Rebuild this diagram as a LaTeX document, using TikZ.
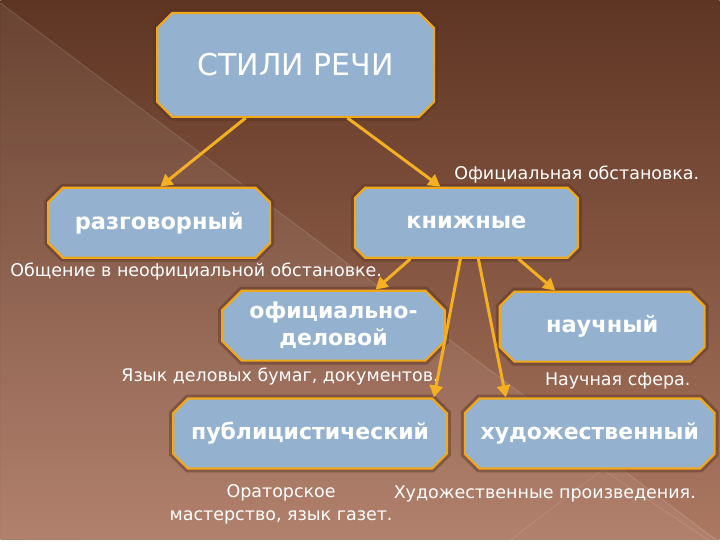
\documentclass[tikz,border=0pt]{standalone}
\usepackage{fontspec}
\setmainfont{DejaVu Sans}
\usepackage{tikz}
\usetikzlibrary{shapes.misc,arrows.meta,positioning,calc}
\definecolor{bgtop}{HTML}{5E3523}
\definecolor{bgbottom}{HTML}{AC7862}
\definecolor{boxfill}{HTML}{94B2D0}
\definecolor{boxline}{HTML}{F0A81C}
\definecolor{arrowgold}{HTML}{F4B022}
\definecolor{halo}{HTML}{5A3222}

\begin{document}
\begin{tikzpicture}[x=1pt, y=-1pt,
    stylebox/.style={chamfered rectangle, chamfered rectangle xsep=16pt, draw=boxline, line width=2.2pt, fill=boxfill, text=white, inner sep=0pt, align=center,
      preaction={draw=halo, line width=8pt, opacity=0.45}},
    subbox/.style={stylebox, minimum height=70pt, font=\fontsize{22}{26}\selectfont\bfseries},
    note/.style={text=white, font=\fontsize{17.5}{23}\selectfont, inner sep=0pt},
    arr/.style={draw=arrowgold, line width=3pt, -{Triangle[length=12pt, width=13pt]}}]
    % background
    \shade[top color=bgtop, bottom color=bgbottom] (0,0) rectangle (720,540);
    \fill[white, opacity=0.07] (0,3) -- (720,543) -- (0,540) -- cycle;
    \draw[white, opacity=0.15, line width=0.8pt] (0,3) -- (720,543);
    \draw[white, opacity=0.12, line width=0.8pt] (505,545) -- (603,470) -- (720,548);
    \useasboundingbox (0,0) rectangle (720,540);

    % boxes
    \node[stylebox, minimum width=277pt, minimum height=104pt, chamfered rectangle xsep=24pt, font=\fontsize{30}{34}\selectfont] (stili) at (295.5,65) {СТИЛИ РЕЧИ};
    \node[subbox, minimum width=222pt, font=\fontsize{22.5}{26}\selectfont\bfseries] (razg) at (159,223) {разговорный};
    \node[subbox, minimum width=223pt, font=\fontsize{22.5}{26}\selectfont\bfseries] (knizh) at (466.5,223) {книжные};
    \node[subbox, minimum width=223pt, font=\fontsize{22}{27}\selectfont\bfseries] (ofic) at (333.5,326) {официально-\\деловой};
    \node[subbox, minimum width=205pt, font=\fontsize{22.5}{26}\selectfont\bfseries] (nauch) at (602.5,327) {научный};
    \node[subbox, minimum width=274pt] (publ) at (310,434) {публицистический};
    \node[subbox, minimum width=250pt] (khud) at (590,434) {художественный};

    % notes
    \node[note] (n_ofic) at (577,175) {Официальная обстановка.};
    \node[note] (n_razg) at (196,272) {Общение в неофициальной обстановке.};
    \node[note] (n_delo) at (280,377) {Язык деловых бумаг, документов.};
    \node[note] (n_nauch) at (618,381) {Научная сфера.};
    \node[note, align=center] (n_publ) at (281,505) {Ораторское\\мастерство, язык газет.};
    \node[note] (n_khud) at (545,494) {Художественные произведения.};

    % arrows
    \draw[arr] ([xshift=-50pt]stili.south) -- ([xshift=1pt]razg.north);
    \draw[arr] ([xshift=52pt]stili.south) -- ([xshift=-26pt]knizh.north);
    \draw[arr] ([xshift=-56pt]knizh.south) -- ([xshift=42pt]ofic.north);
    \draw[arr] ([xshift=-6pt]knizh.south) -- ([xshift=124pt]publ.north);
    \draw[arr] ([xshift=12pt]knizh.south) -- ([xshift=-84pt]khud.north);
    \draw[arr] ([xshift=52pt]knizh.south) -- ([xshift=-47pt]nauch.north);
\end{tikzpicture}
\end{document}
